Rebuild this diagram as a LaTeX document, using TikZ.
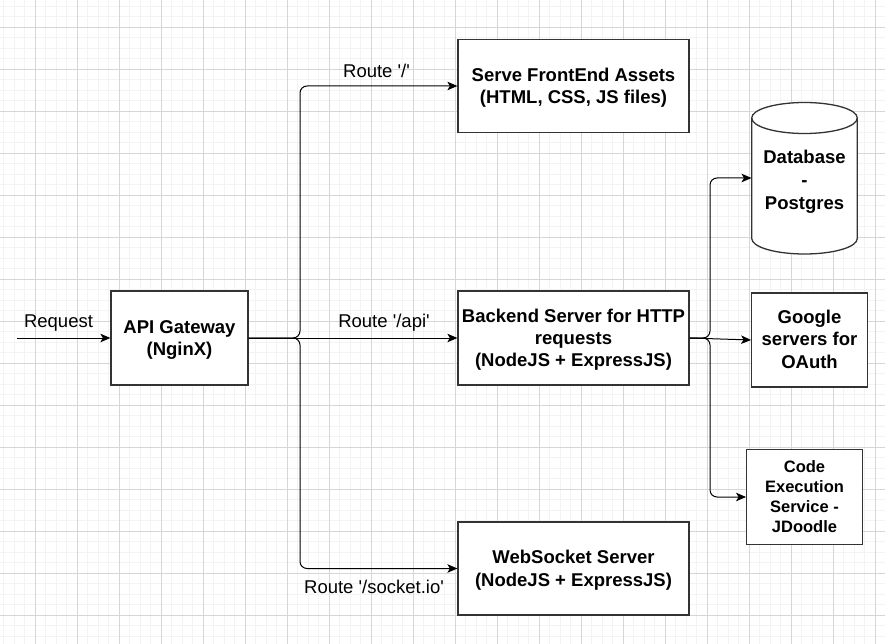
\documentclass[tikz,border=0pt]{standalone}
\usepackage{fontspec}
\setmainfont{Liberation Sans}
\usetikzlibrary{arrows.meta}
\definecolor{gridminor}{RGB}{243,243,243}
\definecolor{gridmajor}{RGB}{214,214,214}
\definecolor{boxline}{RGB}{51,51,51}
\newcommand{\sq}{\textquotesingle}
\newcommand{\lines}[2][2pt]{\raisebox{-#1}[\height][\depth]{\begin{tabular}{@{}c@{}}#2\end{tabular}}}
\tikzset{
  minorline/.style={draw=gridminor, line width=1pt},
  majorline/.style={draw=gridmajor, line width=0.9pt},
  boxnode/.style={draw=boxline, line width=1.3pt, fill=white, align=center, inner sep=0pt,
    font=\fontsize{18.5}{22.2}\selectfont\bfseries},
  smallbox/.style={boxnode, font=\fontsize{16.5}{20}\selectfont\bfseries},
  lbl/.style={font=\fontsize{18.5}{22.2}\selectfont, inner sep=0pt},
  conn/.style={draw=black, line width=1pt, rounded corners=7pt,
    -{Stealth[length=10pt,width=8.5pt,inset=2.5pt]}}
}
\begin{document}
\begin{tikzpicture}[x=1pt,y=-1pt]
\useasboundingbox (0,0) rectangle (885,644);
\fill[white] (0,0) rectangle (885,644);
% grid
\foreach \i in {-4,...,84} {
  \draw[minorline] ({35.3+10.5*\i},0) -- ({35.3+10.5*\i},644);
}
\foreach \j in {-3,...,59} {
  \draw[minorline] (0,{27.3+10.5*\j}) -- (885,{27.3+10.5*\j});
}
\foreach \i in {-1,...,21} {
  \draw[majorline] ({35.3+42*\i},0) -- ({35.3+42*\i},644);
}
\foreach \j in {-1,...,15} {
  \draw[majorline] (0,{27.3+42*\j}) -- (885,{27.3+42*\j});
}
% nodes
\node[boxnode, minimum width=137pt, minimum height=94pt] (gw) at (179.5,338) {\lines{API Gateway\\(NginX)}};
\node[boxnode, minimum width=231pt, minimum height=93pt] (serve) at (573.5,86) {\lines{Serve FrontEnd Assets\\(HTML, CSS, JS files)}};
\node[boxnode, minimum width=231pt, minimum height=94pt] (backend) at (573.5,338) {\lines{Backend Server for HTTP\\requests\\(NodeJS + ExpressJS)}};
\node[boxnode, minimum width=231pt, minimum height=93pt] (ws) at (573.5,568.5) {\lines{WebSocket Server\\(NodeJS + ExpressJS)}};
\node[boxnode, minimum width=115.6pt, minimum height=94pt] (google) at (809.5,340) {\lines[1.5pt]{Google\\servers for\\OAuth}};
\node[smallbox, minimum width=115.6pt, minimum height=95pt] (code) at (804.5,497) {\lines[1.5pt]{Code\\Execution\\Service -\\JDoodle}};
% database cylinder
\draw[boxline, line width=1.3pt, fill=white] (751.7,118) -- (751.7,238.5) arc[start angle=180, end angle=360, x radius=52.8pt, y radius=15.5pt] -- (857.3,118) arc[start angle=0, end angle=180, x radius=52.8pt, y radius=15.5pt] -- cycle;
\draw[boxline, line width=1.3pt] (751.7,118) arc[start angle=180, end angle=360, x radius=52.8pt, y radius=15.5pt];
\node[align=center, inner sep=0pt, minimum width=105.6pt, minimum height=152pt,
  font=\fontsize{18.5}{23}\selectfont\bfseries] (db) at (804.5,178) {\lines[4pt]{Database\\-\\Postgres}};
% connectors
\coordinate (req) at (17,338);
\coordinate (j1) at (300,338);
\coordinate (j2) at (710,338);
\draw[conn] (req) -- (gw.west);
\draw[conn] (gw.east) -- (j1) |- (serve.west);
\draw[conn] (gw.east) -- (backend.west);
\draw[conn] (gw.east) -- (j1) |- (ws.west);
\draw[conn] (backend.east) -- (j2) |- (db.west);
\draw[conn] (backend.east) -- (google.west);
\draw[conn] (backend.east) -- (j2) |- (code.west);
% labels
\node[lbl] (lreq) at (58.5,323) {Request};
\node[lbl] (lroot) at (376.5,71) {Route \sq/\sq};
\node[lbl] (lapi) at (384,323) {Route \sq/api\sq};
\node[lbl] (lsock) at (374,587) {Route \sq/socket.io\sq};
\end{tikzpicture}
\end{document}
